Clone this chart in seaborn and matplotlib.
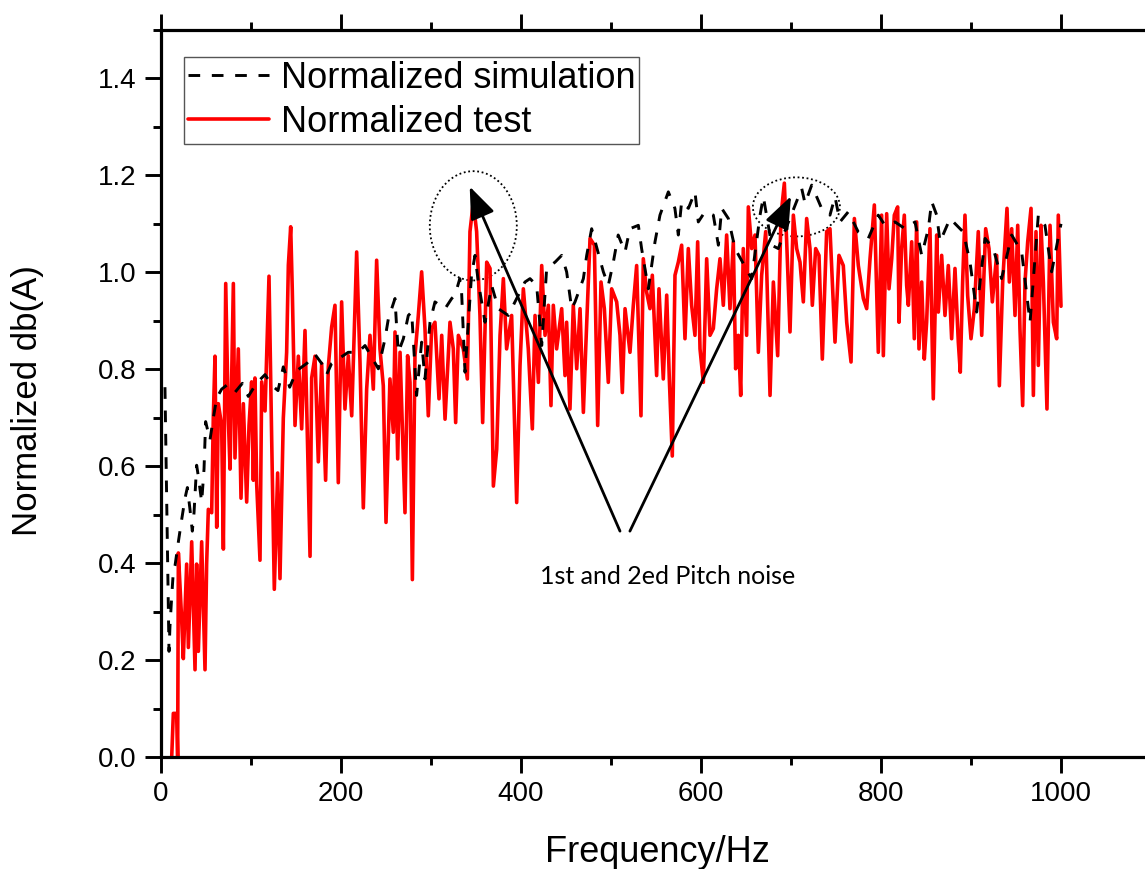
import matplotlib
matplotlib.use("Agg")
import matplotlib.pyplot as plt
from matplotlib.patches import Ellipse
from matplotlib.ticker import MultipleLocator, FormatStrFormatter
import seaborn as sns

# Normalized simulation (black dashed)
sim_freq = [4.4, 8.9, 10, 11.9, 13.7, 15.6, 19.3, 22.9, 26.7, 29.3, 32.2, 34.8, 36.7, 39.6, 41.5,
            45.2, 47.8, 49.6, 54.4, 58.1, 61.9, 67.4, 73, 82, 90.4, 97, 106, 115.6, 123, 130,
            135.9, 143, 150.7, 161.9, 171, 178.5, 184, 189.6,
            208, 219, 226.7, 241.5, 248.9, 252.6, 260, 261.9, 263.7, 269.3, 274.8, 278.5, 284,
            289.6, 293.3, 298.9, 304.4, 315.6, 323, 326.7, 332, 334, 337.8, 345, 348.9, 352.6,
            360, 367.4, 374.8, 385.9, 393.3, 400.7,
            404.4, 410, 417.4, 423, 428.5, 437.8, 445.2, 450.7, 456.3, 460, 469.3, 473, 478.5,
            491.5, 497, 502.6, 508, 515.6, 521, 530.4, 534, 541.5, 548.9, 554.4, 563.7, 571,
            574.8, 578.5, 586, 593.3, 597,
            604.4, 613.7, 619.3, 623, 630.4, 637.8, 656.3, 665.6, 669.3, 678.5, 685.9, 691.5,
            711.9, 715.6, 723, 734, 743.3, 748.9, 754.4, 763.7, 774.8, 785.9, 797,
            804.4, 815.6, 826.7, 837.8, 845.2, 852.6, 856.3, 861.9, 865.6, 876.7, 891.5, 898.9,
            906.3, 915.6, 924.8, 934, 945.2, 956.3, 965.6, 974.8, 982.2, 989.6, 1000]
sim_db = [0.763, 0.218, 0.271, 0.331, 0.383, 0.395, 0.444, 0.489, 0.534, 0.556, 0.511, 0.466, 0.504,
          0.602, 0.579, 0.526, 0.594, 0.692, 0.654, 0.699, 0.741, 0.759, 0.767, 0.752, 0.771, 0.744,
          0.771, 0.789, 0.767, 0.756, 0.805, 0.763, 0.797, 0.812, 0.831, 0.812, 0.789, 0.812,
          0.835, 0.835, 0.849, 0.801, 0.863, 0.904, 0.946, 0.884, 0.835, 0.863, 0.911, 0.918, 0.746,
          0.856, 0.780, 0.897, 0.939, 0.925, 0.946, 0.953, 0.987, 0.959, 0.794, 0.994, 1.035, 0.980,
          0.897, 0.973, 0.925, 0.911, 0.939, 0.966,
          0.980, 0.987, 0.973, 0.849, 1.008, 1.021, 1.035, 1.001, 0.925, 0.939, 0.987, 1.035, 1.090,
          1.001, 0.973, 1.021, 1.077, 1.042, 1.090, 1.097, 1.049, 0.966, 1.063, 1.118, 1.166, 1.132,
          1.077, 1.146, 1.132, 1.166, 1.104,
          1.125, 1.118, 1.056, 1.132, 1.111, 1.049, 0.987, 1.118, 1.156, 1.056, 1.049, 1.077,
          1.173, 1.142, 1.180, 1.132, 1.118, 1.156, 1.104, 1.125, 1.083, 1.070, 1.118,
          1.097, 1.104, 1.090, 1.104, 1.035, 1.090, 1.146, 1.118, 1.063, 1.111, 1.083, 1.021,
          0.918, 1.070, 1.049, 0.987, 1.077, 1.042, 0.897, 1.118, 1.097, 1.001, 1.100]

# Normalized test (red solid)
test_freq = [11.9, 13.7, 17.4, 18.5, 19.3, 22.9, 24.8, 28.5, 30.4, 34.1, 37.8, 39.6, 41.5, 45.2,
             48.9, 50.7, 52.6, 56.3, 58.1, 60, 61.9, 63.7, 67.4, 69.3, 71.9, 74.8, 76.7, 80.4,
             82.2, 85.9, 88.9, 91.5, 95.2, 97.8, 100.7, 102.6, 104.4, 106.3, 110, 111.9, 115.6,
             120, 123, 125.9, 129.6, 132.2, 135.9, 139.6, 141.5, 144.1, 145.9, 148.9, 152.6,
             156.3, 160, 163, 165.6, 167.4, 171.1, 174.8, 178.5, 182.9, 185.9, 189.6, 193.3, 197,
             200.7, 204.4, 208.1, 211.9, 217.4, 221.1, 224.8, 228.5, 232.2, 235.9, 239.6, 243.3,
             247, 250, 254.4, 258.1, 260, 263, 265.6, 271.1, 274, 276.7, 279.3, 282.2, 285.9,
             289.6, 293.3, 297, 300.7, 304.4, 308.9, 311.9, 315.6, 321.1, 324.8, 327.4, 330.4,
             335.9, 340.4, 343.3, 347, 350.7, 354.4, 357.4, 361.9, 365.6, 369.3, 373, 376.7,
             380.4, 384, 389.6, 395.2, 398.9, 402.6,
             408.1, 412.6, 415.6, 419.3, 423, 426.7, 430.4, 433.3, 435.9, 439.6, 445.2, 448.9,
             450.7, 454.4, 458.1, 461.9, 465.6, 469.3, 471.9, 476.7, 481.5, 485.2, 488.9, 492.6,
             497, 500.7, 506.3, 510, 512.6, 515.6, 521.1, 524.8, 528.5, 533.3, 535.9, 539.6,
             543.3, 545.9, 550.7, 553.3, 558.1, 561.9, 564.8, 568.1, 571.1, 574.8, 578.5, 582.2,
             585.9, 589.6, 593.3, 596.3, 598.9, 602.6,
             606.3, 610, 613.7, 617.4, 621.1, 624.8, 628.5, 632.2, 635.9, 638.5, 641.5, 644.1,
             647, 650.7, 652.6, 656.3, 660, 663.7, 667.4, 671.9, 676.7, 680.4, 685.2, 688.9,
             692.6, 695.2, 698.9, 702.6, 706.3, 710, 713.7, 717.4, 721.1, 723.7, 727.4, 731.1,
             734.8, 739.6, 743.3, 748.9, 753.3, 758.1, 761.9, 766.7, 770.4, 774.8, 780.4, 784.1,
             787.8, 792.6, 797, 800.7,
             802.6, 806.3, 808.9, 811.9, 814.8, 818.5, 820, 822.9, 825.9, 828.5, 830.4, 834.1,
             837, 839.6, 842.2, 845.2, 848.1, 850.7, 854.4, 858.1, 861.9, 863.7, 867.4, 871.1,
             874.8, 878.5, 882.2, 885.9, 888.1, 890.7, 893.3, 896.3, 900, 903.7, 908.1, 911.9,
             916.3, 920, 923.7, 928.5, 931.5, 935.2, 940, 942.6, 945.2, 948.9, 951.9, 954.4,
             957.4, 960, 963, 966.7, 969.3, 972.2, 974.8, 977.8, 980.4, 984.4, 987.8, 991.5,
             995.2, 997, 1000]
test_db = [0.0, 0.09, 0.09, 0.0, 0.421, 0.286, 0.203, 0.398, 0.226, 0.444, 0.180, 0.398, 0.218, 0.444,
           0.180, 0.398, 0.511, 0.504, 0.699, 0.827, 0.474, 0.729, 0.684, 0.429, 0.977, 0.699, 0.594,
           0.977, 0.617, 0.842, 0.534, 0.729, 0.526, 0.684, 0.774, 0.571, 0.782, 0.564, 0.406, 0.774,
           0.714, 0.992, 0.654, 0.346, 0.586, 0.368, 0.699, 0.835, 1.015, 1.094, 0.962, 0.684, 0.827,
           0.677, 0.880, 0.632, 0.414, 0.782, 0.827, 0.609, 0.812, 0.571, 0.805, 0.887, 0.932, 0.566,
           0.939, 0.718, 0.828, 0.704, 1.042, 0.815, 0.514, 0.759, 0.870, 0.759, 1.025, 0.842,
           0.766, 0.484, 0.780, 0.670, 0.877, 0.615, 0.835, 0.504, 0.828, 0.773, 0.366, 0.828, 0.911,
           1.001, 0.884, 0.704, 0.884, 0.897, 0.739, 0.870, 0.697, 0.897, 0.842, 0.690, 0.870,
           0.842, 0.780, 1.084, 1.145, 1.084, 0.911, 0.690, 1.021, 1.008, 0.559, 0.635, 0.870,
           0.987, 0.842, 0.911, 0.525, 0.808, 0.966,
           0.842, 0.677, 0.911, 0.773, 1.014, 0.870, 0.932, 0.725, 0.932, 0.842, 0.925, 0.787,
           0.897, 0.718, 0.932, 0.801, 0.925, 0.711, 0.842, 1.070, 1.056, 0.684, 0.980, 0.925,
           0.773, 0.966, 0.939, 0.870, 0.752, 0.925, 0.835, 0.932, 1.014, 0.704, 1.028, 0.959,
           0.925, 0.994, 0.787, 0.966, 0.780, 0.953, 0.780, 0.621, 0.994, 1.021, 1.056, 0.863,
           1.049, 0.932, 0.870, 1.063, 0.842, 0.773,
           1.028, 0.870, 0.884, 0.966, 1.028, 0.932, 1.077, 0.925, 1.063, 0.801, 0.870, 0.746,
           1.049, 0.870, 1.135, 1.049, 1.077, 0.835, 0.994, 1.084, 0.746, 0.980, 0.828, 1.118,
           1.184, 1.063, 0.877, 1.118, 1.049, 1.021, 0.939, 1.111, 1.049, 0.932, 1.049, 1.035,
           0.821, 1.084, 1.090, 0.856, 1.035, 1.014, 0.897, 0.815, 1.111, 1.014, 0.946, 0.925,
           1.028, 1.139, 0.835, 1.118,
           0.828, 1.121, 0.966, 1.028, 1.118, 1.135, 0.897, 1.049, 1.118, 0.973, 0.932, 1.063,
           0.863, 1.104, 0.842, 0.980, 0.821, 0.897, 1.090, 0.739, 1.077, 0.918, 1.035, 0.911,
           1.014, 0.863, 1.008, 0.856, 0.794, 0.980, 1.118, 0.952, 0.863, 0.925, 1.084, 0.870,
           1.090, 1.049, 0.939, 1.035, 0.766, 0.980, 1.132, 0.980, 1.090, 0.911, 1.097, 0.884,
           0.725, 0.980, 1.063, 1.132, 0.746, 1.084, 0.808, 1.097, 0.980, 0.718, 1.097, 0.897,
           0.863, 1.118, 0.930]

note_text = "1st and 2ed Pitch noise"

sns.set_style("ticks")
plt.rcParams["font.family"] = ["Liberation Sans", "DejaVu Sans"]
plt.rcParams["text.color"] = "black"
plt.rcParams["axes.labelcolor"] = "black"
plt.rcParams["xtick.color"] = "black"
plt.rcParams["ytick.color"] = "black"

fig = plt.figure(figsize=(11.45, 8.69), dpi=100)
ax = fig.add_axes([161 / 1145, 112 / 869, 990 / 1145, 727 / 869])

# red first so the dashed simulation sits on top, like the original
sns.lineplot(x=test_freq, y=test_db, ax=ax, color="#ff0000", lw=2.6,
             estimator=None, sort=False, label="Normalized test")
sns.lineplot(x=sim_freq, y=sim_db, ax=ax, color="black", lw=2.1,
             estimator=None, sort=False, label="Normalized simulation")
ax.lines[-1].set_dashes([4, 4])

handles, labels = ax.get_legend_handles_labels()
leg = ax.legend(handles[::-1], labels[::-1], loc="upper left",
                bbox_to_anchor=(0.0232, 0.963), fontsize=26, frameon=True,
                fancybox=False, edgecolor="#555555", framealpha=1,
                handlelength=2.25, handletextpad=0.33, borderpad=0.1,
                labelspacing=0.26, borderaxespad=0)
leg.get_frame().set_linewidth(1.0)

ax.set_xlim(0, 1100)
ax.set_ylim(0, 1.5)
ax.xaxis.set_major_locator(MultipleLocator(200))
ax.xaxis.set_minor_locator(MultipleLocator(100))
ax.yaxis.set_major_locator(MultipleLocator(0.2))
ax.yaxis.set_minor_locator(MultipleLocator(0.1))
ax.yaxis.set_major_formatter(FormatStrFormatter("%.1f"))

ax.tick_params(which="major", direction="out", length=11.5, width=2.1, top=True, right=False,
               labelsize=20, pad=6)
ax.tick_params(which="minor", direction="out", length=6, width=2.1, top=True, right=False)
for side in ["left", "bottom", "top", "right"]:
    ax.spines[side].set_linewidth(2.3)
    ax.spines[side].set_color("black")

ax.set_xlabel("Frequency/Hz", fontsize=26)
ax.set_ylabel("Normalized db(A)", fontsize=25)
ax.xaxis.set_label_coords(0.501, -0.107)
ax.yaxis.set_label_coords(-0.118, 0.49)

# annotations: the two pitch-noise peaks
ax.add_patch(Ellipse((347, 1.096), 96.7, 0.2255, fill=False, ec="black", lw=1.3, ls=(0, (1, 1.5))))
ax.add_patch(Ellipse((706, 1.135), 96.7, 0.122, fill=False, ec="black", lw=1.3, ls=(0, (1, 1.5))))
arrow = dict(arrowstyle="-|>,head_length=0.9,head_width=0.35", color="black", lw=2,
             shrinkA=0, shrinkB=0, mutation_scale=22)
ax.annotate("", xy=(343, 1.177), xytext=(510, 0.466), arrowprops=arrow)
ax.annotate("", xy=(700, 1.157), xytext=(521, 0.466), arrowprops=arrow)
ax.text(563, 0.372, note_text, ha="center", va="center", fontsize=18, family=["Lato", "DejaVu Sans"])

fig.savefig("out.png", dpi=100)
